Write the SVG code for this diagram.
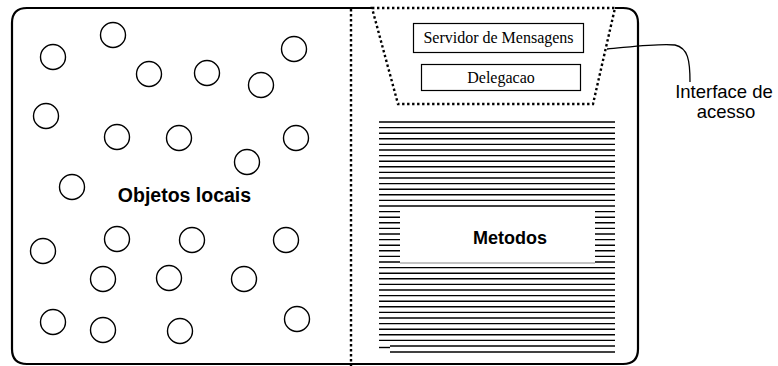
<svg xmlns="http://www.w3.org/2000/svg" width="778" height="366" viewBox="0 0 778 366">
<style>
.obj{fill:none;stroke:#000;stroke-width:1.4}
.dot{fill:none;stroke:#000;stroke-width:2.4;stroke-dasharray:2.4 2.6}
.box{fill:#fff;stroke:#000;stroke-width:1.2}
.serif{font-family:"Liberation Serif","Times New Roman",serif;font-size:16px;fill:#000}
.sans{font-family:"Liberation Sans",Arial,sans-serif;fill:#000}
.stripe{stroke:#000;stroke-width:1.4}
</style>
<rect width="778" height="366" fill="#fff"/>
<g id="frame">
<path d="M615,8 H623 Q638,8 638,23 V349 Q638,364 623,364 H27 Q12,364 12,349 V23 Q12,8 27,8 H372" fill="none" stroke="#000" stroke-width="2.2"/>
<line class="dot" x1="351" y1="9" x2="351" y2="366"/>
</g>
<g id="objetos-locais">
<circle class="obj" cx="113" cy="35" r="12.5"/>
<circle class="obj" cx="53" cy="57" r="12.5"/>
<circle class="obj" cx="294" cy="49" r="12.5"/>
<circle class="obj" cx="149" cy="74" r="12.5"/>
<circle class="obj" cx="207" cy="73" r="12.5"/>
<circle class="obj" cx="261" cy="85" r="12.5"/>
<circle class="obj" cx="46" cy="116" r="12.5"/>
<circle class="obj" cx="117" cy="137" r="12.5"/>
<circle class="obj" cx="179" cy="138" r="12.5"/>
<circle class="obj" cx="296" cy="138" r="12.5"/>
<circle class="obj" cx="247" cy="162" r="12.5"/>
<circle class="obj" cx="72" cy="187" r="12.5"/>
<circle class="obj" cx="117" cy="239" r="12.5"/>
<circle class="obj" cx="192" cy="240" r="12.5"/>
<circle class="obj" cx="286" cy="240" r="12.5"/>
<circle class="obj" cx="43" cy="251" r="12.5"/>
<circle class="obj" cx="103" cy="279" r="12.5"/>
<circle class="obj" cx="169" cy="278" r="12.5"/>
<circle class="obj" cx="244" cy="279" r="12.5"/>
<circle class="obj" cx="53" cy="322" r="12.5"/>
<circle class="obj" cx="103" cy="330" r="12.5"/>
<circle class="obj" cx="180" cy="331" r="12.5"/>
<circle class="obj" cx="297" cy="319" r="12.5"/>
<text class="sans" x="184.5" y="202" font-size="19.5" font-weight="bold" text-anchor="middle">Objetos locais</text>
</g>
<g id="interface">
<path class="dot" d="M372,8 H615 L593,104 H398 Z"/>
<g id="servidor">
<rect class="box" x="413.5" y="23.5" width="170" height="29"/>
<text class="serif" x="498.5" y="43" text-anchor="middle">Servidor de Mensagens</text>
</g>
<g id="delegacao">
<rect class="box" x="421.5" y="64.5" width="159" height="26"/>
<text class="serif" x="501" y="83" text-anchor="middle">Delegacao</text>
</g>
</g>
<g id="metodos">
<g class="stripe">
<line x1="379" y1="122" x2="615" y2="122"/>
<line x1="379" y1="127.6" x2="615" y2="127.6"/>
<line x1="379" y1="133.2" x2="615" y2="133.2"/>
<line x1="379" y1="138.8" x2="615" y2="138.8"/>
<line x1="379" y1="144.4" x2="615" y2="144.4"/>
<line x1="379" y1="150" x2="615" y2="150"/>
<line x1="379" y1="155.6" x2="615" y2="155.6"/>
<line x1="379" y1="161.2" x2="615" y2="161.2"/>
<line x1="379" y1="166.8" x2="615" y2="166.8"/>
<line x1="379" y1="172.4" x2="615" y2="172.4"/>
<line x1="379" y1="178" x2="615" y2="178"/>
<line x1="379" y1="183.6" x2="615" y2="183.6"/>
<line x1="379" y1="189.2" x2="615" y2="189.2"/>
<line x1="379" y1="194.8" x2="615" y2="194.8"/>
<line x1="379" y1="200.4" x2="615" y2="200.4"/>
<line x1="379" y1="206" x2="615" y2="206"/>
<line x1="379" y1="211.6" x2="615" y2="211.6"/>
<line x1="379" y1="217.2" x2="615" y2="217.2"/>
<line x1="379" y1="222.8" x2="615" y2="222.8"/>
<line x1="379" y1="228.4" x2="615" y2="228.4"/>
<line x1="379" y1="234" x2="615" y2="234"/>
<line x1="379" y1="239.6" x2="615" y2="239.6"/>
<line x1="379" y1="245.2" x2="615" y2="245.2"/>
<line x1="379" y1="250.8" x2="615" y2="250.8"/>
<line x1="379" y1="256.4" x2="615" y2="256.4"/>
<line x1="379" y1="262" x2="615" y2="262"/>
<line x1="379" y1="267.6" x2="615" y2="267.6"/>
<line x1="379" y1="273.2" x2="615" y2="273.2"/>
<line x1="379" y1="278.8" x2="615" y2="278.8"/>
<line x1="379" y1="284.4" x2="615" y2="284.4"/>
<line x1="379" y1="290" x2="615" y2="290"/>
<line x1="379" y1="295.6" x2="615" y2="295.6"/>
<line x1="379" y1="301.2" x2="615" y2="301.2"/>
<line x1="379" y1="306.8" x2="615" y2="306.8"/>
<line x1="379" y1="312.4" x2="615" y2="312.4"/>
<line x1="379" y1="318" x2="615" y2="318"/>
<line x1="379" y1="323.6" x2="615" y2="323.6"/>
<line x1="379" y1="329.2" x2="615" y2="329.2"/>
<line x1="379" y1="334.8" x2="615" y2="334.8"/>
<line x1="379" y1="340.4" x2="615" y2="340.4"/>
<line x1="379" y1="347.5" x2="390" y2="347.5"/>
<line x1="390" y1="346" x2="615" y2="346"/>
<line x1="390" y1="352" x2="615" y2="352"/>
</g>
<rect x="400" y="210" width="195" height="53" fill="#fff"/>
<line x1="400" y1="263" x2="595" y2="263" stroke="#888" stroke-width="1"/>
<text class="sans" x="510" y="244" font-size="18" font-weight="bold" text-anchor="middle">Metodos</text>
</g>
<g id="connectors">
<path d="M607,49 C630,47 660,43 675,45 C688,48 690,60 690,82" fill="none" stroke="#000" stroke-width="1.3"/>
</g>
<g id="label-interface">
<text class="sans" font-size="18.5" text-anchor="middle"><tspan x="724" y="98">Interface de</tspan><tspan x="726" y="118">acesso</tspan></text>
</g>
</svg>
